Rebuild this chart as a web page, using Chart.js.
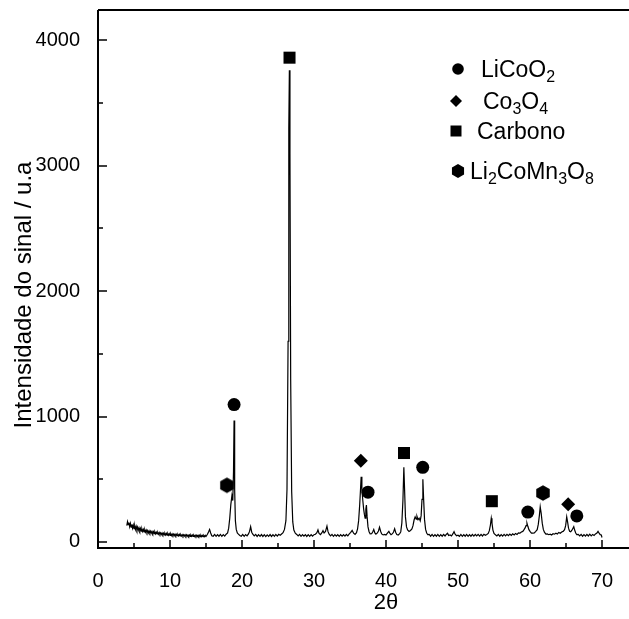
<!DOCTYPE html>
<html>
<head>
<meta charset="utf-8">
<script src="https://cdn.jsdelivr.net/npm/chart.js@4.4.1/dist/chart.umd.min.js"></script>
<style>
  html, body { margin: 0; padding: 0; background: #fff; overflow: hidden; }
  #xrd { display: block; }
</style>
</head>
<body>
<canvas id="xrd" width="690" height="619"></canvas>
<script>
// XRD pattern (2theta / intensity)
const twoTheta = [
  4.0, 4.1, 4.2, 4.3, 4.4, 4.5, 4.6, 4.7, 4.8, 4.9, 5.0, 5.1, 5.2, 5.3, 5.4, 5.5, 5.6, 5.7, 5.8, 5.9,
  6.0, 6.1, 6.2, 6.3, 6.4, 6.5, 6.6, 6.7, 6.8, 6.9, 7.0, 7.1, 7.2, 7.3, 7.4, 7.5, 7.6, 7.7, 7.8, 7.9,
  8.0, 8.1, 8.2, 8.3, 8.4, 8.5, 8.6, 8.7, 8.8, 8.9, 9.0, 9.1, 9.2, 9.3, 9.4, 9.5, 9.6, 9.7, 9.8, 9.9,
  10.0, 10.1, 10.2, 10.3, 10.4, 10.5, 10.6, 10.7, 10.8, 10.9, 11.0, 11.1, 11.2, 11.3, 11.4, 11.5, 11.6, 11.7, 11.8, 11.9,
  12.0, 12.1, 12.2, 12.3, 12.4, 12.5, 12.6, 12.7, 12.8, 12.9, 13.0, 13.1, 13.2, 13.3, 13.4, 13.5, 13.6, 13.7, 13.8, 13.9,
  14.0, 14.1, 14.2, 14.3, 14.4, 14.5, 14.6, 14.7, 14.8, 14.9, 15.0,
  15.2, 15.35, 15.5, 15.65, 15.8, 16.0, 16.2, 16.4, 16.6, 16.8, 17.0, 17.2, 17.4, 17.6, 17.8,
  18.0, 18.15, 18.3, 18.45, 18.6, 18.72, 18.82, 18.9, 18.98, 19.08, 19.2, 19.35, 19.5, 19.7, 19.9,
  20.1, 20.3, 20.5, 20.7, 20.9, 21.05, 21.2, 21.35, 21.5, 21.7, 21.9, 22.1, 22.3, 22.5, 22.7, 22.9,
  23.1, 23.3, 23.5, 23.7, 23.9, 24.1, 24.3, 24.5, 24.7, 24.9, 25.1, 25.3, 25.5, 25.7, 25.9,
  26.1, 26.25, 26.4, 26.5, 26.58, 26.66, 26.76, 26.9, 27.05, 27.2, 27.4, 27.6, 27.8,
  28.0, 28.2, 28.4, 28.6, 28.8, 29.0, 29.2, 29.4, 29.6, 29.8, 30.0, 30.2, 30.4, 30.55, 30.7, 30.9,
  31.1, 31.25, 31.4, 31.6, 31.8, 31.95, 32.1, 32.3, 32.5, 32.7, 32.9, 33.1, 33.3, 33.5, 33.7, 33.9,
  34.1, 34.3, 34.5, 34.7, 34.9, 35.1, 35.3, 35.5, 35.7, 35.9, 36.05, 36.2, 36.35, 36.47, 36.55, 36.65,
  36.78, 36.9, 37.0, 37.1, 37.2, 37.28, 37.38, 37.5, 37.65, 37.8, 38.0, 38.15, 38.3, 38.45, 38.6, 38.8,
  38.95, 39.1, 39.25, 39.4, 39.6, 39.8, 40.0, 40.2, 40.4, 40.55, 40.7, 40.9, 41.05, 41.2, 41.35, 41.5,
  41.7, 41.9, 42.05, 42.2, 42.35, 42.48, 42.58, 42.7, 42.85, 43.0, 43.2, 43.4, 43.6, 43.75, 43.9, 44.05,
  44.2, 44.3, 44.45, 44.6, 44.75, 44.88, 45.0, 45.12, 45.22, 45.35, 45.5, 45.65, 45.8, 46.0, 46.2, 46.4,
  46.6, 46.8, 47.0, 47.2, 47.4, 47.6, 47.8, 48.0, 48.2, 48.4, 48.55, 48.7, 48.9, 49.1, 49.3, 49.45,
  49.6, 49.8, 50.0, 50.2, 50.4, 50.6, 50.8, 51.0, 51.2, 51.4, 51.6, 51.8, 52.0, 52.2, 52.4, 52.6,
  52.8, 53.0, 53.2, 53.4, 53.6, 53.8, 54.0, 54.2, 54.35, 54.5, 54.62, 54.72, 54.85, 55.0, 55.2, 55.4,
  55.6, 55.8, 56.0, 56.2, 56.4, 56.6, 56.8, 57.0, 57.2, 57.4, 57.6, 57.8, 58.0, 58.2, 58.4, 58.6,
  58.8, 59.0, 59.15, 59.3, 59.45, 59.58, 59.7, 59.85, 60.0, 60.2, 60.4, 60.6, 60.8, 61.0, 61.15, 61.3,
  61.42, 61.55, 61.7, 61.85, 62.0, 62.2, 62.4, 62.6, 62.8, 63.0, 63.2, 63.4, 63.6, 63.8, 64.0, 64.2,
  64.4, 64.6, 64.8, 64.95, 65.1, 65.22, 65.35, 65.5, 65.65, 65.8, 65.95, 66.08, 66.2, 66.35, 66.5, 66.7,
  66.9, 67.1, 67.3, 67.5, 67.7, 67.9, 68.1, 68.3, 68.5, 68.7, 68.9, 69.1, 69.3, 69.45, 69.6, 69.75,
  69.9, 70.0
];
const intensity = [
  130, 162, 138, 155, 122, 148, 118, 140, 110, 135, 106, 128, 100, 124, 98, 118, 94, 112, 90, 108,
  86, 104, 84, 100, 80, 97, 78, 94, 76, 91, 73, 88, 72, 86, 70, 84, 68, 82, 67, 80,
  65, 78, 64, 76, 62, 75, 61, 73, 60, 72, 58, 70, 57, 69, 56, 68, 55, 67, 54, 66,
  53, 65, 52, 64, 52, 63, 51, 62, 50, 61, 50, 60, 49, 60, 48, 59, 48, 58, 47, 58,
  47, 57, 46, 57, 46, 56, 45, 56, 45, 55, 45, 55, 44, 54, 44, 54, 44, 54, 43, 53,
  43, 53, 43, 53, 43, 52, 42, 52, 43, 53, 44,
  62, 80, 100, 72, 50, 46, 60, 45, 59, 46, 60, 45, 59, 47, 62,
  72, 110, 190, 300, 370, 330, 560, 968, 420, 170, 100, 72, 62, 52, 46,
  60, 45, 59, 48, 64, 84, 122, 78, 62, 48, 60, 44, 58, 45, 59, 44,
  58, 43, 57, 45, 59, 44, 58, 45, 60, 47, 61, 54, 64, 74, 100,
  170, 420, 1600, 3300, 3760, 3100, 1300, 400, 160, 95, 70, 60, 48,
  60, 45, 58, 46, 59, 44, 58, 45, 59, 46, 58, 62, 74, 96, 68, 58,
  74, 90, 72, 84, 126, 82, 62, 48, 60, 45, 58, 46, 59, 45, 59, 47,
  58, 46, 60, 49, 64, 76, 92, 70, 60, 74, 105, 170, 300, 430, 520, 420,
  330, 260, 220, 190, 260, 295, 200, 120, 82, 64, 66, 80, 100, 72, 62, 72,
  88, 118, 86, 64, 56, 60, 56, 70, 84, 68, 58, 66, 80, 106, 76, 60,
  56, 66, 82, 150, 330, 595, 420, 200, 120, 96, 84, 92, 104, 130, 175, 200,
  182, 205, 178, 190, 168, 210, 340, 500, 350, 180, 100, 72, 58, 60, 46, 60,
  45, 59, 46, 60, 45, 59, 46, 61, 48, 62, 70, 52, 56, 48, 66, 82,
  62, 50, 54, 45, 60, 45, 59, 46, 60, 45, 59, 46, 60, 47, 61, 48,
  60, 47, 61, 48, 62, 54, 60, 68, 90, 135, 190, 150, 95, 68, 57, 48,
  60, 46, 59, 47, 60, 48, 61, 50, 63, 52, 65, 56, 68, 60, 72, 70,
  80, 84, 96, 110, 130, 150, 125, 98, 84, 70, 70, 72, 84, 98, 140, 210,
  280, 230, 150, 100, 78, 62, 64, 58, 62, 56, 66, 62, 70, 64, 76, 70,
  80, 84, 98, 130, 200, 160, 110, 86, 82, 92, 108, 122, 95, 72, 58, 60,
  48, 60, 46, 59, 47, 61, 48, 62, 48, 60, 52, 64, 72, 84, 70, 58,
  56, 36
];

// peak markers per phase: position (2theta) and marker height
const phaseNames = ["LiCoO2", "Co3O4", "Carbono", "Li2CoMn3O8"];
const licoo2Pos = [18.9, 37.5, 45.1, 59.7, 66.5];
const licoo2Mark = [1095, 397, 595, 238, 208];
const co3o4Pos = [36.5, 65.3];
const co3o4Mark = [648, 300];
const carbonPos = [26.6, 42.5, 54.7];
const carbonMark = [3860, 709, 325];
const limnPos = [17.9, 61.8];
const limnMark = [452, 390];

const xTicks = [0, 10, 20, 30, 40, 50, 60, 70, 80];
const yTicks = [0, 1000, 2000, 3000, 4000];

const FONT = "'Liberation Sans', Arial, sans-serif";

function hexPath(ctx, cx, cy, r) {
  ctx.beginPath();
  for (let k = 0; k < 6; k++) {
    const a = -Math.PI / 2 + k * Math.PI / 3;
    const px = cx + r * Math.cos(a), py = cy + r * Math.sin(a);
    if (k === 0) ctx.moveTo(px, py); else ctx.lineTo(px, py);
  }
  ctx.closePath();
}

function hexagonImage(r) {
  const c = document.createElement("canvas");
  c.width = c.height = Math.ceil(2 * r + 2);
  const g = c.getContext("2d");
  g.fillStyle = "#000";
  hexPath(g, c.width / 2, c.height / 2, r);
  g.fill();
  return c;
}

function pts(xs, ys) {
  return xs.map((x, i) => ({ x: x, y: ys[i] }));
}

// inward tick marks, frame, y title and legend
const decorations = {
  id: "decorations",
  afterDraw(chart) {
    const ctx = chart.ctx;
    const { left, right, top, bottom } = chart.chartArea;
    const xs = chart.scales.x, ys = chart.scales.y;
    ctx.save();
    ctx.strokeStyle = "#000";
    ctx.lineWidth = 2;
    ctx.beginPath();
    ctx.moveTo(left, top); ctx.lineTo(right, top);
    ctx.moveTo(left, top); ctx.lineTo(left, bottom);
    ctx.moveTo(left - 1, bottom); ctx.lineTo(right, bottom);
    ctx.stroke();

    ctx.lineWidth = 1.5;
    ctx.beginPath();
    for (let v = 0; v <= 80; v += 5) {
      const px = Math.round(xs.getPixelForValue(v));
      const len = v % 10 === 0 ? 8 : 5;
      ctx.moveTo(px, bottom); ctx.lineTo(px, bottom - len);
    }
    for (let v = 0; v <= 4000; v += 500) {
      const py = Math.round(ys.getPixelForValue(v));
      const len = v % 1000 === 0 ? 9 : 5;
      ctx.moveTo(left, py); ctx.lineTo(left + len, py);
    }
    ctx.stroke();

    // y axis title
    ctx.fillStyle = "#000";
    ctx.font = "24px " + FONT;
    ctx.textAlign = "center";
    ctx.textBaseline = "middle";
    ctx.translate(24, 295);
    ctx.rotate(-Math.PI / 2);
    ctx.fillText("Intensidade do sinal / u.a", 0, 0);
    ctx.setTransform(1, 0, 0, 1, 0, 0);

    // legend
    const rows = [
      { sym: "circle", sx: 458, sy: 69, tx: 481 },
      { sym: "diamond", sx: 456, sy: 101, tx: 483 },
      { sym: "square", sx: 456, sy: 131, tx: 477 },
      { sym: "hexagon", sx: 458, sy: 171, tx: 470 }
    ];
    rows.forEach((row, i) => {
      ctx.beginPath();
      if (row.sym === "circle") {
        ctx.arc(row.sx, row.sy, 5.8, 0, Math.PI * 2);
      } else if (row.sym === "diamond") {
        ctx.moveTo(row.sx, row.sy - 6); ctx.lineTo(row.sx + 6, row.sy);
        ctx.lineTo(row.sx, row.sy + 6); ctx.lineTo(row.sx - 6, row.sy);
        ctx.closePath();
      } else if (row.sym === "square") {
        ctx.rect(row.sx - 5.5, row.sy - 5.5, 11, 11);
      } else {
        hexPath(ctx, row.sx, row.sy, 7);
      }
      ctx.fill();

      const parts = phaseNames[i].split(/(\d+)/).filter(s => s.length);
      let x = row.tx;
      const base = row.sy + 8;
      ctx.textAlign = "left";
      ctx.textBaseline = "alphabetic";
      parts.forEach(p => {
        const sub = /^\d+$/.test(p);
        ctx.font = (sub ? "16px " : "23px ") + FONT;
        ctx.fillText(p, x, sub ? base + 5 : base);
        x += ctx.measureText(p).width;
      });
    });
    ctx.restore();
  }
};

const config = {
  type: "line",
  data: {
    datasets: [
      {
        label: "XRD",
        data: pts(twoTheta, intensity),
        borderColor: "#000",
        borderWidth: 1.2,
        pointRadius: 0,
        tension: 0,
        fill: false
      },
      {
        label: phaseNames[0],
        data: pts(licoo2Pos, licoo2Mark),
        showLine: false,
        pointStyle: "circle",
        pointRadius: 6.5,
        backgroundColor: "#000",
        borderWidth: 0
      },
      {
        label: phaseNames[1],
        data: pts(co3o4Pos, co3o4Mark),
        showLine: false,
        pointStyle: "rectRot",
        pointRadius: 7,
        backgroundColor: "#000",
        borderWidth: 0
      },
      {
        label: phaseNames[2],
        data: pts(carbonPos, carbonMark),
        showLine: false,
        pointStyle: "rect",
        pointRadius: 8.5,
        backgroundColor: "#000",
        borderWidth: 0
      },
      {
        label: phaseNames[3],
        data: pts(limnPos, limnMark),
        showLine: false,
        pointStyle: hexagonImage(7.8),
        backgroundColor: "#000",
        borderWidth: 0
      }
    ]
  },
  options: {
    responsive: false,
    animation: false,
    devicePixelRatio: 1,
    layout: { padding: { top: 10, right: 16, bottom: 0, left: 0 } },
    plugins: {
      legend: { display: false },
      tooltip: { enabled: false }
    },
    scales: {
      x: {
        type: "linear",
        min: 0,
        max: 80,
        grid: { display: false },
        border: { display: false },
        afterBuildTicks: (scale) => { scale.ticks = xTicks.map(v => ({ value: v })); },
        afterFit: (scale) => { scale.height = 71; scale.paddingLeft = 0; scale.paddingRight = 0; },
        ticks: {
          color: "#000",
          padding: 13,
          maxRotation: 0,
          font: { family: FONT, size: 20 },
          callback: (v) => String(v)
        },
        title: {
          display: true,
          text: "2θ",
          color: "#000",
          padding: { top: 0, bottom: 3 },
          font: { family: FONT, size: 22 }
        }
      },
      y: {
        type: "linear",
        min: -48,
        max: 4240,
        grid: { display: false },
        border: { display: false },
        afterBuildTicks: (scale) => { scale.ticks = yTicks.map(v => ({ value: v })); },
        afterFit: (scale) => { scale.width = 98; scale.paddingTop = 0; scale.paddingBottom = 0; },
        ticks: {
          color: "#000",
          padding: 10,
          font: { family: FONT, size: 20 },
          callback: (v) => String(v)
        }
      }
    }
  },
  plugins: [decorations]
};

new Chart(document.getElementById("xrd").getContext("2d"), config);
</script>
</body>
</html>
